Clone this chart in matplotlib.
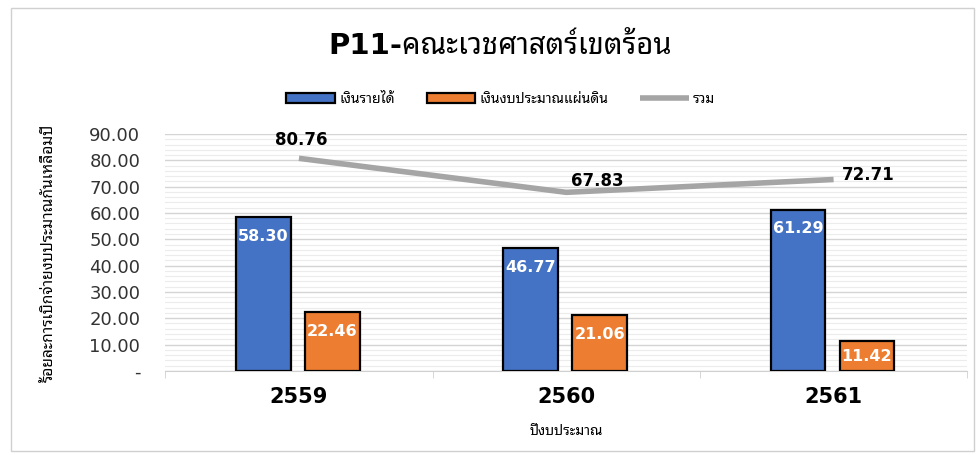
import matplotlib
matplotlib.use("Agg")
import matplotlib.pyplot as plt
from matplotlib import font_manager
from matplotlib.patches import Rectangle
from matplotlib.ticker import FuncFormatter, MultipleLocator, FixedLocator
import numpy as np

# Thai glyphs: take the first Thai family that is present
installed = {f.name for f in font_manager.fontManager.ttflist}
thai = [n for n in ["Noto Sans Thai Looped", "Noto Sans Thai", "Sarabun", "Anuphan"]
        if n in installed][:1]
plt.rcParams["font.family"] = ["DejaVu Sans"] + thai

years = ["2559", "2560", "2561"]
income = [58.30, 46.77, 61.29]
budget = [22.46, 21.06, 11.42]
total = [80.76, 67.83, 72.71]

series_names = ["เงินรายได้", "เงินงบประมาณแผ่นดิน", "รวม"]
title = "P11-คณะเวชศาสตร์เขตร้อน"
ylabel = "ร้อยละการเบิกจ่ายงบประมาณกันเหลื่อมปี"
xlabel = "ปีงบประมาณ"

blue = "#4472c4"
orange = "#ed7d31"
gray = "#a5a5a5"

fig = plt.figure(figsize=(9.78, 4.55), dpi=100)
fig.patches.append(Rectangle((0.011, 0.008), 0.985, 0.975, transform=fig.transFigure,
                             fill=False, edgecolor="#d0d0d0", linewidth=1))
ax = fig.add_axes([0.169, 0.185, 0.820, 0.5205])

x = np.arange(len(years))
w = 0.205
b1 = ax.bar(x - 0.133, income, w, color=blue, edgecolor="black", linewidth=1.6,
            label=series_names[0], zorder=3)
b2 = ax.bar(x + 0.125, budget, w, color=orange, edgecolor="black", linewidth=1.6,
            label=series_names[1], zorder=3)
ln, = ax.plot(x, total, color=gray, linewidth=4, label=series_names[2], zorder=4,
              solid_capstyle="butt")

# ป้ายค่าในแท่ง (ขาว)
for rect, v in zip(list(b1) + list(b2), income + budget):
    ax.annotate(f"{v:.2f}", (rect.get_x() + rect.get_width() / 2, v),
                xytext=(0, -14 if v > 15 else -11), textcoords="offset points",
                ha="center", va="center", color="white", fontsize=11.5,
                fontweight="bold", zorder=5)

label_offsets = [(2, 13), (22, 8), (25, 3)]
for xi, v, off in zip(x, total, label_offsets):
    ax.annotate(f"{v:.2f}", (xi, v), xytext=off, textcoords="offset points",
                ha="center", va="center", color="black", fontsize=12,
                fontweight="bold", zorder=5)

ax.set_xlim(-0.5, 2.5)
ax.set_ylim(0, 90)
ax.yaxis.set_major_locator(MultipleLocator(10))
ax.yaxis.set_minor_locator(MultipleLocator(2))
ax.yaxis.set_major_formatter(FuncFormatter(lambda v, p: "-" if abs(v) < 1e-9 else f"{v:.2f}"))
ax.grid(axis="y", which="major", color="#d4d4d4", linewidth=1, zorder=0)
ax.grid(axis="y", which="minor", color="#ececec", linewidth=0.8, zorder=0)
ax.set_xticks(x)
ax.set_xticklabels(years, fontsize=15, fontweight="bold")
ax.xaxis.set_minor_locator(FixedLocator([-0.5, 0.5, 1.5, 2.5]))
ax.tick_params(axis="x", which="major", length=0, pad=12)
ax.tick_params(axis="x", which="minor", length=5, color="#d0d0d0")
ax.tick_params(axis="y", which="both", length=0, labelsize=13, pad=18, labelcolor="#333333")
for s in ["top", "right", "left"]:
    ax.spines[s].set_visible(False)
ax.spines["bottom"].set_color("#d0d0d0")

ax.set_ylabel(ylabel, fontsize=11.2, fontweight="bold")
ax.yaxis.set_label_coords(-0.136, 0.5)
ax.set_xlabel(xlabel, fontsize=10, fontweight="bold", labelpad=12)

fig.text(0.511, 0.9, title, ha="center", va="center", fontsize=21, fontweight="bold")
fig.legend(handles=[b1, b2, ln], loc="center", bbox_to_anchor=(0.512, 0.782), ncol=3,
           frameon=False, fontsize=10, handlelength=3.5, columnspacing=2.3,
           handletextpad=0.3)

fig.savefig("out.png", dpi=100)
